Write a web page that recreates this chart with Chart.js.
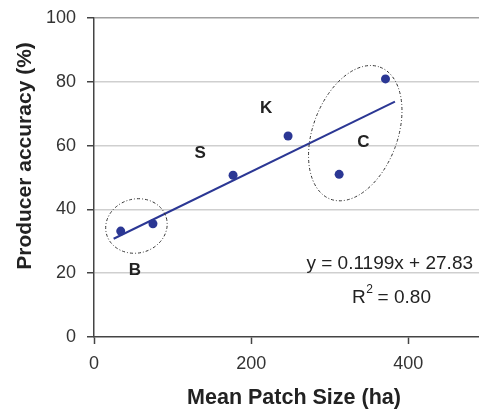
<!DOCTYPE html>
<html>
<head>
<meta charset="utf-8">
<script src="https://cdn.jsdelivr.net/npm/chart.js@4/dist/chart.umd.min.js"></script>
<style>
html,body{margin:0;padding:0;background:#fff;overflow:hidden;}
#wrap{width:479px;height:410px;position:relative;}
</style>
</head>
<body>
<div id="wrap"><canvas id="c"></canvas></div>
<script>
// ---- data ----
const patchSize = [34, 75, 177, 247, 312, 371];
const accuracy  = [33.2, 35.5, 50.7, 63.0, 51.0, 80.9];
const trendX = [25, 383];
const trendY = [30.8, 73.8];
const xTickValues = [0, 200, 400];
const yTickValues = [0, 20, 40, 60, 80, 100];
const groupNames = ['B', 'S', 'K', 'C'];
const groupX = [52, 135, 219, 343];
const groupY = [20.9, 57.7, 71.8, 61.1];
const equationText = 'y = 0.1199x + 27.83';
const r2Text = ' = 0.80';
const xTitle = 'Mean Patch Size (ha)';
const yTitle = 'Producer accuracy (%)';
// ellipses: centre in data units, radii in px, rotation in degrees
const ellipseX = [54, 332.5];
const ellipseY = [34.8, 63.9];
const ellipseRx = [31, 70.5];
const ellipseRy = [27, 42.3];
const ellipseRot = [-15, -69.4];

const FONT = "'Liberation Sans', Arial, Helvetica, sans-serif";
const BLUE = '#2b3794';

const annotations = {
  id: 'annotations',
  afterDatasetsDraw(chart) {
    const ctx = chart.ctx;
    const xs = chart.scales.x, ys = chart.scales.y;
    ctx.save();
    // ellipses
    ctx.strokeStyle = '#333';
    ctx.lineWidth = 1;
    ctx.setLineDash([3, 2, 1, 2]);
    for (let i = 0; i < ellipseX.length; i++) {
      ctx.beginPath();
      ctx.ellipse(xs.getPixelForValue(ellipseX[i]), ys.getPixelForValue(ellipseY[i]),
        ellipseRx[i], ellipseRy[i], ellipseRot[i] * Math.PI / 180, 0, Math.PI * 2);
      ctx.stroke();
    }
    ctx.setLineDash([]);
    // group labels
    ctx.fillStyle = '#222';
    ctx.font = 'bold 17px ' + FONT;
    ctx.textAlign = 'center';
    ctx.textBaseline = 'middle';
    for (let i = 0; i < groupNames.length; i++) {
      ctx.fillText(groupNames[i], xs.getPixelForValue(groupX[i]), ys.getPixelForValue(groupY[i]));
    }
    // equation
    ctx.font = '19px ' + FONT;
    ctx.textBaseline = 'alphabetic';
    ctx.textAlign = 'center';
    ctx.fillText(equationText, xs.getPixelForValue(376.4), ys.getPixelForValue(21.2));
    // R^2
    ctx.textAlign = 'left';
    let rx = xs.getPixelForValue(328.3), ry = ys.getPixelForValue(10.75);
    ctx.fillText('R', rx, ry);
    rx += ctx.measureText('R').width;
    ctx.font = '12px ' + FONT;
    ctx.fillText('2', rx + 0.5, ry - 10);
    rx += ctx.measureText('2').width;
    ctx.font = '19px ' + FONT;
    ctx.fillText(r2Text, rx, ry);
    // axis titles
    ctx.fillStyle = '#222';
    ctx.font = 'bold 21.5px ' + FONT;
    ctx.textAlign = 'center';
    ctx.textBaseline = 'middle';
    ctx.fillText(xTitle, 294, 398);
    ctx.font = 'bold 21px ' + FONT;
    ctx.translate(25, 156);
    ctx.rotate(-Math.PI / 2);
    ctx.fillText(yTitle, 0, 0);
    ctx.restore();
  }
};

new Chart(document.getElementById('c'), {
  type: 'scatter',
  data: {
    datasets: [
      {
        data: patchSize.map((x, i) => ({x: x, y: accuracy[i]})),
        backgroundColor: BLUE,
        borderColor: BLUE,
        pointRadius: 4.5,
        pointBorderWidth: 0,
        order: 1
      },
      {
        data: trendX.map((x, i) => ({x: x, y: trendY[i]})),
        showLine: true,
        borderColor: BLUE,
        borderWidth: 2,
        pointRadius: 0,
        order: 2
      }
    ]
  },
  options: {
    responsive: true,
    maintainAspectRatio: false,
    animation: false,
    layout: {autoPadding: false, padding: {top: 18, left: 0, right: 0, bottom: 0}},
    plugins: {legend: {display: false}, tooltip: {enabled: false}},
    scales: {
      x: {
        type: 'linear',
        min: 0,
        max: 490,
        afterBuildTicks(s) { s.ticks = xTickValues.map(v => ({value: v})); },
        afterFit(s) { s.height = 73; s.paddingLeft = 0; s.paddingRight = 0; },
        ticks: {font: {family: FONT, size: 18}, color: '#333', padding: 9},
        grid: {drawOnChartArea: false, drawTicks: true, tickLength: 7, tickColor: '#444', tickWidth: 1.5},
        border: {color: '#444', width: 1.5}
      },
      y: {
        type: 'linear',
        min: 0,
        max: 100,
        afterBuildTicks(s) { s.ticks = yTickValues.map(v => ({value: v})); },
        afterFit(s) { s.width = 94; s.paddingTop = 0; s.paddingBottom = 0; },
        ticks: {font: {family: FONT, size: 18}, color: '#333', padding: 11},
        grid: {
          drawOnChartArea: true,
          drawTicks: true,
          tickLength: 7,
          tickColor: '#444',
          tickWidth: 1.5,
          lineWidth: 1.5,
          color: c => c.tick && c.tick.value === 100 ? '#a0a0a0' : (c.tick && c.tick.value === 0 ? 'rgba(0,0,0,0)' : '#cfcfcf')
        },
        border: {color: '#444', width: 1.5}
      }
    }
  },
  plugins: [annotations]
});
</script>
</body>
</html>
